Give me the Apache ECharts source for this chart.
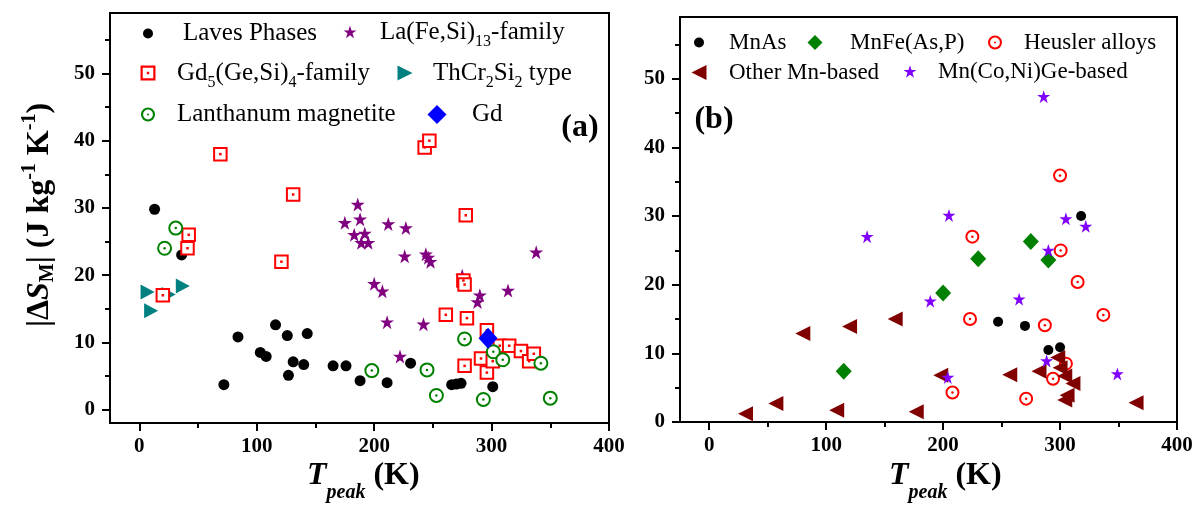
<!DOCTYPE html>
<html><head><meta charset="utf-8">
<script src="https://cdn.jsdelivr.net/npm/echarts@6/dist/echarts.min.js"></script>
<style>html,body{margin:0;padding:0;background:#fff}#c{width:1197px;height:505px}</style>
</head><body><div id="c"></div>
<script>
// ---------- data: panel (a) ----------
const lavesPhases = [[13,29.8],[36,23],[72,3.7],[84,10.8],[103,8.5],[108,7.9],[116,12.6],[126,11.0],[127,5.1],[131,7.1],[140,6.7],[143,11.3],[165,6.5],[176,6.5],[188,4.3],[211,4.0],[231,6.9],[266,3.7],[270,3.8],[274,3.9],[301,3.4]];
const laFeSi13 = [[186,30.5],[175,27.8],[188,28.3],[183,26.0],[192,26.2],[189,24.8],[195,24.8],[212,27.6],[227,27.0],[226,22.8],[244,23.1],[246,22.6],[248,22.0],[200,18.7],[207,17.6],[211,13.0],[242,12.7],[222,7.9],[275,19.9],[290,17.0],[288,16.0],[314,17.7],[338,23.4]];
const gd5GeSi4 = [[20,17.0],[41,24.0],[42,26.0],[69,38.0],[121,22.0],[131,32.0],[243,39.0],[247,40.0],[261,14.1],[276,19.2],[277,18.6],[278,28.9],[279,13.6],[277,6.5],[291,7.6],[296,5.5],[296,11.8],[301,7.2],[307,9.5],[315,9.5],[325,8.7],[332,7.2],[336,8.3]];
const thCr2Si2 = [[7,17.5],[10,14.7],[25,17.1],[37,18.4]];
const lanthanumMagnetite = [[21.5,24.0],[31,27.0],[198,5.8],[245,5.9],[253,2.1],[277,10.5],[293,1.5],[301.5,8.6],[309.5,7.4],[342,6.9],[350,1.7]];
const gdElement = [[297,10.6]];
// ---------- data: panel (b) ----------
const mnAs = [[247,14.6],[270,14.0],[290,10.5],[300,10.9],[318,30.0]];
const mnFeAsP = [[115,7.4],[200,18.8],[230,23.8],[275,26.3],[290,23.6]];
const heusler = [[208,4.3],[223,15.0],[225,27.0],[271,3.4],[287,14.1],[294,6.3],[300,35.9],[300.5,25.0],[305,8.5],[315,20.4],[337,15.6]];
const otherMn = [[31,1.2],[57,2.7],[80,12.9],[109,1.7],[120,13.9],[159,15.0],[177,1.5],[198,6.8],[257,6.9],[282,7.4],[298,9.4],[300,7.9],[304,6.7],[311,5.6],[306,3.9],[304,3.2],[365,2.8]];
const mnCoNiGe = [[135,27.0],[189,17.6],[204,6.5],[205,30.1],[265,17.9],[286,47.4],[288.5,8.9],[290,25.0],[305,29.6],[322,28.5],[349,7.0]];
// ---------- ticks ----------
const xTickLabels = [0,100,200,300,400];
const xMinorTicks = [50,150,250,350];
const yTickLabels = [0,10,20,30,40,50];
const yMinorTicks = [5,15,25,35,45,55];

const FONT = '"Liberation Serif","Times New Roman",serif';
const STAR = 'path://M50,0 L61.8,35.4 L100,35.4 L69.1,57.3 L80.9,95.1 L50,72.6 L19.1,95.1 L30.9,57.3 L0,35.4 L38.2,35.4 Z';
const TRI_R = 'path://M0,0 L100,50 L0,100 Z';
const TRI_L = 'path://M100,0 L0,50 L100,100 Z';
const SQ_DOT = 'path://M0,0 L100,0 L100,100 L0,100 Z M15,15 L15,85 L85,85 L85,15 Z M42,42 L58,42 L58,58 L42,58 Z';
const CIRC_DOT = 'path://M50,0 A50,50 0 1,1 50,100 A50,50 0 1,1 50,0 Z M50,15 A35,35 0 1,0 50,85 A35,35 0 1,0 50,15 Z M50,43 A7,7 0 1,1 50,57 A7,7 0 1,1 50,43 Z';

function xAxes(grid) {
  return [
    {type:'value', gridIndex:grid, min:-25, max:400, position:'bottom',
     axisLine:{onZero:false, lineStyle:{color:'#000', width:2}},
     axisTick:{customValues:xTickLabels, length:8, lineStyle:{color:'#000', width:2}},
     axisLabel:{customValues:xTickLabels, margin:13, color:'#000', fontFamily:FONT, fontWeight:'bold', fontSize:21},
     splitLine:{show:false}},
    {type:'value', gridIndex:grid, min:-25, max:400, position:'bottom',
     axisLine:{show:false, onZero:false},
     axisTick:{customValues:xMinorTicks, length:5, lineStyle:{color:'#000', width:2}},
     axisLabel:{show:false}, splitLine:{show:false}}
  ];
}
function yAxes(grid, min, max) {
  return [
    {type:'value', gridIndex:grid, min:min, max:max, position:'left',
     axisLine:{onZero:false, lineStyle:{color:'#000', width:2}},
     axisTick:{customValues:yTickLabels, length:8, lineStyle:{color:'#000', width:2}},
     axisLabel:{customValues:yTickLabels, margin:15, color:'#000', fontFamily:FONT, fontWeight:'bold', fontSize:21},
     splitLine:{show:false}},
    {type:'value', gridIndex:grid, min:min, max:max, position:'left',
     axisLine:{show:false, onZero:false},
     axisTick:{customValues:yMinorTicks, length:5, lineStyle:{color:'#000', width:2}},
     axisLabel:{show:false}, splitLine:{show:false}}
  ];
}

function sc(name, data, panel, symbol, size, style) {
  return {type:'scatter', name:name, data:data, xAxisIndex:panel*2, yAxisIndex:panel*2,
    symbol:symbol, symbolSize:size, itemStyle:Object.assign({opacity:1}, style), silent:true, animation:false,
    emphasis:{disabled:true}};
}

function leg(name, icon, cx, cy, tx, size, fmt, fs, itemStyle) {
  const g = Math.max(0, tx - (cx + size/2 + 5));
  const hasSub = fmt.indexOf('{s|') >= 0;
  const d = {name:name, icon:icon};
  if (itemStyle) d.itemStyle = itemStyle;
  return {show:true, left:cx - size/2, top:cy - (hasSub ? 17 : 11), padding:0, itemGap:0,
    itemWidth:size, itemHeight:size, selectedMode:false, data:[d], formatter:'{g| }' + fmt,
    textStyle:{fontFamily:FONT, fontSize:fs, color:'#000', rich:{
      g:{width:g, fontSize:10, lineHeight:10},
      n:{fontFamily:FONT, fontSize:fs, color:'#000', lineHeight:38, verticalAlign:'middle'},
      s:{fontFamily:FONT, fontSize:16, color:'#000', lineHeight:18, padding:[20,0,0,0], verticalAlign:'middle'}
    }}};
}

const titleRich = {
  t:{fontFamily:FONT, fontSize:32, fontWeight:'bold', fontStyle:'italic', lineHeight:36, verticalAlign:'middle', fill:'#000'},
  p:{fontFamily:FONT, fontSize:20, fontWeight:'bold', fontStyle:'italic', lineHeight:22, padding:[34,0,0,0], verticalAlign:'middle', fill:'#000'},
  k:{fontFamily:FONT, fontSize:32, fontWeight:'bold', lineHeight:36, verticalAlign:'middle', fill:'#000'}
};
const yRich = {
  b:{fontFamily:FONT, fontSize:32, fontWeight:'bold', lineHeight:36, verticalAlign:'middle', fill:'#000'},
  i:{fontFamily:FONT, fontSize:32, fontWeight:'bold', fontStyle:'italic', lineHeight:36, verticalAlign:'middle', fill:'#000'},
  sub:{fontFamily:FONT, fontSize:20, fontWeight:'bold', lineHeight:22, padding:[16,0,0,0], verticalAlign:'middle', fill:'#000'},
  sup:{fontFamily:FONT, fontSize:20, fontWeight:'bold', lineHeight:22, padding:[0,0,20,0], verticalAlign:'middle', fill:'#000'}
};

const option = {
  backgroundColor:'#fff',
  animation:false,
  grid:[
    {left:110, top:13, width:499, height:410, show:true, borderColor:'#000', borderWidth:2, containLabel:false},
    {left:680, top:17, width:497, height:405, show:true, borderColor:'#000', borderWidth:2, containLabel:false}
  ],
  xAxis:[...xAxes(0), ...xAxes(1)],
  yAxis:[...yAxes(0,-2,59), ...yAxes(1,0,59)],
  legend:[
    leg('Laves Phases','circle',148,32,183,10,'{n|Laves Phases}',25),
    leg('La(Fe,Si)13-family',STAR,350,31,380,13,'{n|La(Fe,Si)}{s|13}{n|-family}',25),
    leg('Gd5(Ge,Si)4-family',SQ_DOT,148,72,177,15,'{n|Gd}{s|5}{n|(Ge,Si)}{s|4}{n|-family}',25,{color:'#ff0000',borderWidth:0}),
    leg('ThCr2Si2 type',TRI_R,405,72,433,15,'{n|ThCr}{s|2}{n|Si}{s|2}{n| type}',25),
    leg('Lanthanum magnetite',CIRC_DOT,148,113,177,14,'{n|Lanthanum magnetite}',25,{color:'#008000',borderWidth:0}),
    leg('Gd','diamond',437,113,472,19,'{n|Gd}',25),
    leg('MnAs','circle',699,42,729,10,'{n|MnAs}',23),
    leg('MnFe(As,P)','diamond',815,42,850,15,'{n|MnFe(As,P)}',23),
    leg('Heusler alloys',CIRC_DOT,995,42,1024,14,'{n|Heusler alloys}',23,{color:'#ff0000',borderWidth:0}),
    leg('Other Mn-based',TRI_L,699,72,729,15,'{n|Other Mn-based}',23),
    leg('Mn(Co,Ni)Ge-based',STAR,910,71,938,13,'{n|Mn(Co,Ni)Ge-based}',23)
  ],
  series:[
    sc('Laves Phases', lavesPhases, 0, 'circle', 11, {color:'#000'}),
    sc('La(Fe,Si)13-family', laFeSi13, 0, STAR, 14, {color:'#800080'}),
    sc('ThCr2Si2 type', thCr2Si2, 0, TRI_R, [14,15], {color:'#008080'}),
    sc('Gd5(Ge,Si)4-family', gd5GeSi4, 0, 'rect', 12.5, {color:'#fff', borderColor:'#ff0000', borderWidth:2}),
    sc('_gdDot', gd5GeSi4, 0, 'rect', 2.5, {color:'#ff0000'}),
    sc('Lanthanum magnetite', lanthanumMagnetite, 0, 'circle', 13, {color:'#fff', borderColor:'#008000', borderWidth:2}),
    sc('_lmDot', lanthanumMagnetite, 0, 'circle', 2.5, {color:'#008000'}),
    sc('Gd', gdElement, 0, 'diamond', [19,21], {color:'#0000ff'}),

    sc('Heusler alloys', heusler, 1, 'circle', 12, {color:'#fff', borderColor:'#ff0000', borderWidth:2}),
    sc('_hDot', heusler, 1, 'circle', 2.5, {color:'#ff0000'}),
    sc('MnFe(As,P)', mnFeAsP, 1, 'diamond', [16,17], {color:'#008000'}),
    sc('Other Mn-based', otherMn, 1, TRI_L, [15,15], {color:'#800000'}),
    sc('MnAs', mnAs, 1, 'circle', 10, {color:'#000'}),
    sc('Mn(Co,Ni)Ge-based', mnCoNiGe, 1, STAR, 13, {color:'#8000ff'})
  ],
  graphic:[
    {type:'text', x:307, y:476, silent:true, style:{text:'{t|T}{p|peak}{k| (K)}', rich:titleRich, align:'left', verticalAlign:'middle'}},
    {type:'text', x:889, y:476, silent:true, style:{text:'{t|T}{p|peak}{k| (K)}', rich:titleRich, align:'left', verticalAlign:'middle'}},
    {type:'text', x:40, y:215, rotation:Math.PI/2, silent:true, style:{text:'{b||Δ}{i|S}{sub|M}{b|| (J kg}{sup|-1}{b| K}{sup|-1}{b|)}', rich:yRich, align:'center', verticalAlign:'middle'}},
    {type:'text', x:580, y:128, silent:true, style:{text:'(a)', fill:'#000', font:'bold 32px '+FONT, align:'center', verticalAlign:'middle'}},
    {type:'text', x:714, y:120, silent:true, style:{text:'(b)', fill:'#000', font:'bold 32px '+FONT, align:'center', verticalAlign:'middle'}}
  ]
};
const chart = echarts.init(document.getElementById('c'), null, {renderer:'canvas'});
chart.setOption(option);
</script>
</body></html>
